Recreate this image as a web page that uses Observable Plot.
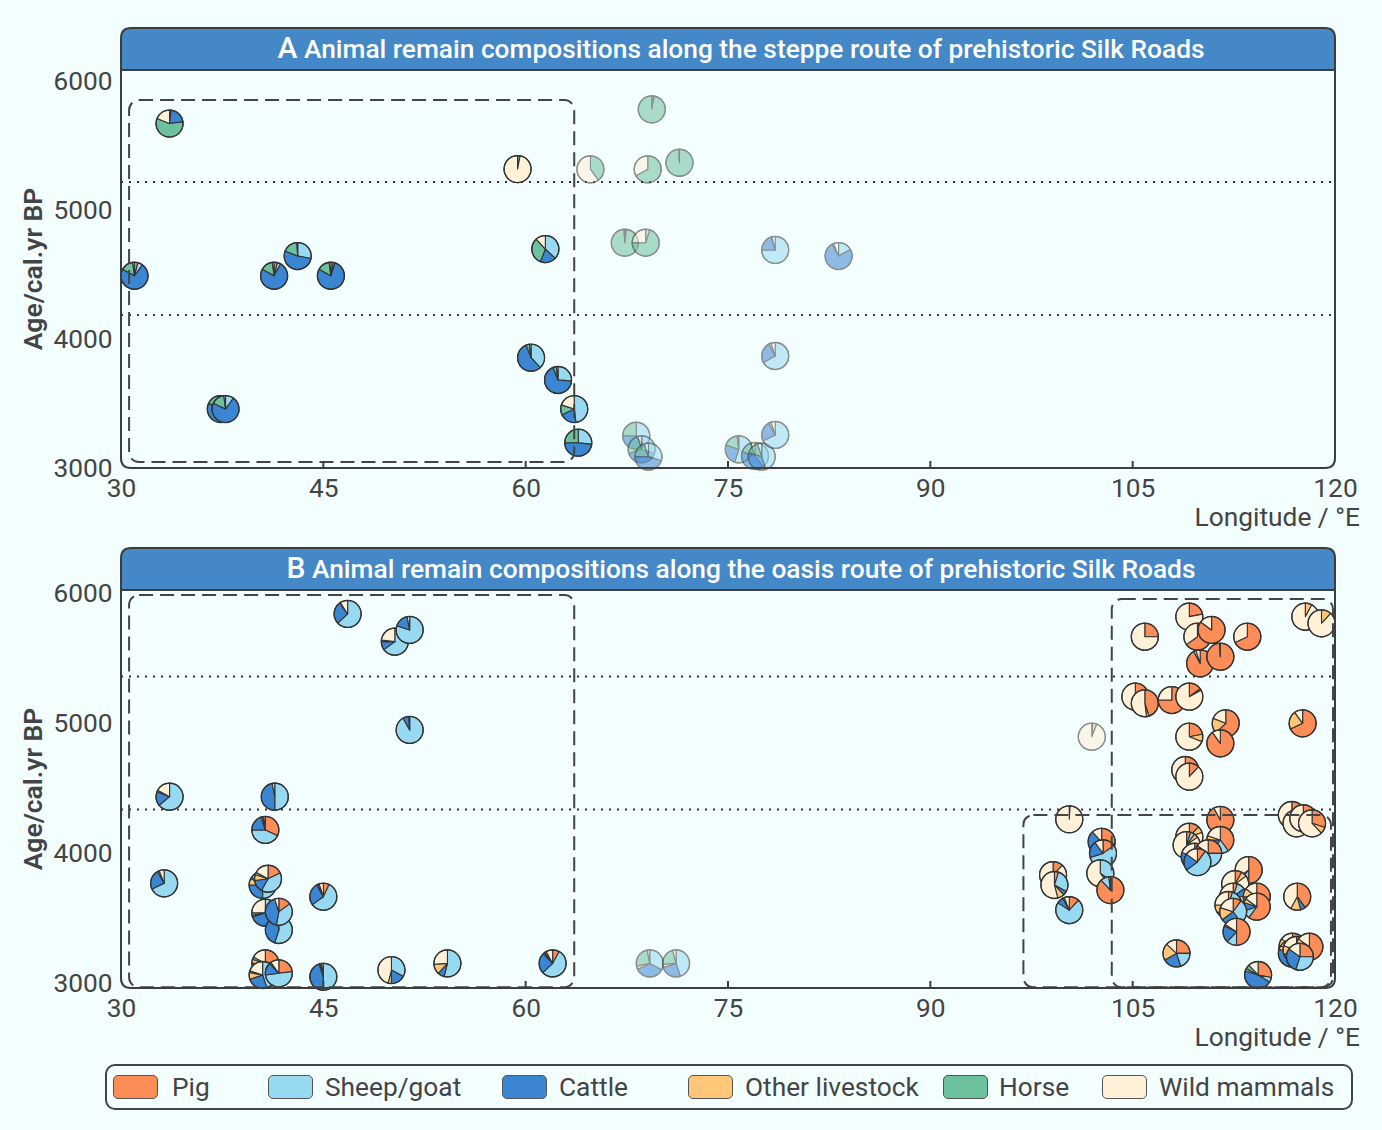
<!DOCTYPE html>
<html><head><meta charset="utf-8">
<script src="https://cdn.jsdelivr.net/npm/d3@7"></script>
<script src="https://cdn.jsdelivr.net/npm/@observablehq/plot@0.6"></script>
<style>
html,body{margin:0;padding:0;background:#F3FEFE;overflow:hidden;}
#wrap{position:relative;width:1382px;height:1130px;font-family:Roboto,"DejaVu Sans",sans-serif;}
.panel{position:absolute;left:0;}
.panel svg{overflow:visible;background:transparent;}
.panel [aria-label^="x-axis"] text,.panel [aria-label^="y-axis"] text{font-size:26.3px;fill:#444;}
#legend{position:absolute;left:105px;top:1064px;width:1248px;height:46px;border:2px solid #444;border-radius:10px;box-sizing:border-box;}
.sw{position:absolute;top:9px;width:45px;height:24px;border:1px solid #555;border-radius:5px;box-sizing:border-box;}
.lt{position:absolute;top:0;height:42px;line-height:42px;font-size:26.3px;color:#444;white-space:nowrap;}
</style>
</head><body>
<div id="wrap">
  <div id="pA" class="panel" style="top:0px"></div>
  <div id="pB" class="panel" style="top:520px"></div>
  <div id="legend"></div>
</div>
<script>
// ---------- shared ----------
const species = ["Pig","Sheep/goat","Cattle","Other livestock","Horse","Wild mammals"];
const speciesColors = ["#FC8D59","#98D9F2","#3B86D3","#FEC679","#6CC19E","#FFF1D8"];
const xTicks = [30,45,60,75,90,105,120];
const innerTicks = [45,60,75,90,105];
const yTicks = [3000,4000,5000,6000];

// ---------- Panel A: steppe route ----------
const lonA = [33.6,31.0,41.35,43.1,45.56,37.4,37.75,59.4,61.46,60.4,62.4,63.6,63.9,69.35,64.8,69.05,71.4,67.35,68.9,78.5,83.2,78.5,68.2,68.6,69.1,75.8,77.0,77.5,78.5];
const ageA = [5670,4490,4490,4643,4490,3457,3457,5317,4697,3855,3682,3457,3196,5780,5315,5315,5366,4746,4746,4690,4643,3868,3250,3145,3088,3145,3093,3088,3256];
const pigA    = [2,4,4,0,3,0,0,0,0,0,0,0,0,0,0,0,0,0,0,0,0,0,0,0,0,0,0,0,0];
const sheepA  = [0,6,4,28,2,10,10,0,37,38,26,48,27,0,0,0,0,0,5,75,17,67,40,30,30,55,40,45,68];
const cattleA = [21,73,75,53,78,72,72,0,19,56,68,20,48,3,0,0,0,2,0,20,75,25,35,40,45,25,40,35,24];
const otherA  = [0,0,0,0,0,0,0,0,0,0,0,0,0,0,0,0,0,0,0,0,0,0,0,0,0,0,0,0,0];
const horseA  = [58,15,15,18,15,16,16,3,32,4,4,12,25,97,40,67,99,97,70,1,2,3,25,25,20,18,15,15,3];
const wildA   = [19,2,2,1,2,2,2,97,12,2,2,20,0,0,60,33,1,1,25,4,6,5,0,5,5,2,5,5,5];
const dividersA = [5220,4190];
const boxLon1A = [30.6], boxLon2A = [63.6], boxAge1A = [3047], boxAge2A = [5852];

// ---------- Panel B: oasis route ----------
const lonB = [46.8,50.3,51.4,51.4,33.6,41.4,40.7,33.2,40.5,40.9, 45.0,40.7,41.7,41.7,40.7,40.5,41.7,45.0,50.05,54.2, 62.0,69.2,71.15,101.97,105.9,109.2,109.8,110.85,113.5,110.0, 111.5,117.8,119.0,105.2,105.9,107.9,109.2,111.9,111.5,109.2, 117.6,108.9,109.2,100.3,102.7,102.8,102.6,103.35,99.1,99.2, 100.3,111.5,109.2,109.0,111.5,109.6,110.6,109.8,113.6,112.6, 112.45,114.2,114.2,112.1,112.45,112.7,117.2,108.25,114.3,116.85, 116.8,117.15,118.1,117.4,116.8,117.15,117.65,118.3];
const ageB = [5838,5625,5715,4946,4433,4433,4177,3767,3754,3802, 3664,3541,3408,3548,3151,3062,3075,3048,3100,3151, 3151,3151,3151,4894,5663,5817,5663,5715,5663,5458, 5509,5817,5766,5202,5151,5176,5202,4997,4843,4894, 4997,4638,4587,4259,4086,3997,3844,3715,3830,3754, 3561,4254,4125,4061,4100,3971,3997,3930,3869,3761, 3664,3664,3587,3600,3548,3394,3664,3228,3062,3279, 3228,3254,3279,3202,4292,4228,4267,4228];
const pigB    = [0,0,0,0,0,0,32,0,0,18, 7,0,0,15,25,0,23,0,0,0, 8,0,0,1,25,22,65,85,68,92, 99,0,0,20,45,75,15,63,90,22, 68,40,12,0,28,15,0,88,12,5, 12,92,12,5,40,10,25,10,50,8, 5,55,60,5,10,50,40,25,28,10, 20,20,60,25,20,10,15,30];
const sheepB  = [63,65,80,92,64,50,43,68,50,40, 58,35,55,38,30,45,50,50,33,54, 55,33,45,0,0,0,0,0,0,0, 0,0,0,0,0,0,0,0,0,0, 0,0,0,0,35,55,35,10,0,28, 72,0,0,5,20,45,40,55,12,0, 10,10,10,25,30,12,0,20,6,15, 15,20,5,30,0,0,0,0];
const cattleB = [27,10,17,7,17,47,20,24,25,15, 27,35,43,42,20,25,15,45,17,8, 25,35,25,0,0,0,0,0,0,0, 0,0,0,0,0,0,0,0,0,0, 0,0,0,0,25,20,5,0,0,5, 8,0,0,0,15,25,20,20,3,0, 10,10,10,35,25,20,6,22,46,50, 45,30,15,30,0,0,0,0];
const otherB  = [1,2,0,0,2,0,2,2,8,7, 2,2,0,0,5,8,2,1,4,12, 2,4,4,5,0,0,0,0,0,3, 0,8,12,0,3,0,2,18,0,9, 22,20,0,1,0,0,0,0,0,8, 2,0,8,5,5,0,0,0,0,7, 10,10,5,10,15,2,12,20,3,10, 5,10,5,0,0,0,0,8];
const horseB  = [0,0,0,0,0,0,1,0,2,3, 1,3,0,0,3,2,0,2,0,0, 2,25,22,0,0,0,0,0,0,0, 0,0,0,0,0,0,0,0,0,0, 0,0,0,0,0,0,0,0,0,0, 0,0,0,0,0,0,0,0,0,0, 0,0,0,0,0,0,0,0,5,0, 0,0,0,0,0,0,0,0];
const wildB   = [9,23,3,1,17,3,2,6,15,17, 5,25,2,5,17,20,10,2,46,26, 8,3,4,94,75,78,35,15,32,5, 1,92,88,80,52,25,83,19,10,69, 10,40,88,99,12,10,60,2,88,54, 6,8,80,85,20,20,15,15,35,85, 65,15,15,25,20,16,42,13,12,15, 15,20,15,15,80,90,85,62];
const dividersB = [5361,4338];
const boxLon1B = [30.6,103.45,96.9], boxLon2B = [63.6,119.85,119.7], boxAge1B = [2968,2968,2968], boxAge2B = [5984,5953,4292];

// ---------- helpers ----------
function findArgs(args){
  const scales = args.find(a => a && typeof a === "object" && typeof a.x === "function" && typeof a.y === "function");
  const dims = args.find(a => a && typeof a === "object" && "marginLeft" in a && "width" in a);
  return {scales, dims};
}
const R = 13.5;
function pieMark(sites){
  return (...args) => {
    const {scales} = findArgs(args);
    const g = d3.create("svg:g").attr("aria-label","pies");
    const pie = d3.pie().sort(null).value(d => d.v);
    const arc = d3.arc().innerRadius(0).outerRadius(R);
    for (const s of sites){
      const gg = g.append("g")
        .attr("transform", `translate(${scales.x(s.lon)},${scales.y(s.age)})`)
        .attr("opacity", s.faded ? 0.55 : 1);
      const vals = species.map((k,i) => ({k, v: s.comp[i], color: speciesColors[i]}));
      gg.selectAll("path").data(pie(vals).filter(d => d.data.v > 0)).join("path")
        .attr("d", arc).attr("fill", d => d.data.color)
        .attr("stroke", "#333").attr("stroke-width", 1.1).attr("stroke-linejoin","round");
      gg.append("circle").attr("r", R).attr("fill","none").attr("stroke","#333").attr("stroke-width",1.3);
    }
    return g.node();
  };
}
function frameMark(letter, title){
  return (...args) => {
    const {scales, dims} = findArgs(args);
    const {width, height, marginLeft, marginRight, marginTop, marginBottom} = dims;
    const x0 = marginLeft, x1 = width - marginRight, yT = marginTop, yB = height - marginBottom;
    const r = 10, hh = 42, col = "#3d3d3d";
    const g = d3.create("svg:g").attr("aria-label","panel frame");
    g.append("path")
      .attr("d", `M${x0},${yT} V${yB-r} Q${x0},${yB} ${x0+r},${yB} H${x1-r} Q${x1},${yB} ${x1},${yB-r} V${yT}`)
      .attr("fill","none").attr("stroke",col).attr("stroke-width",2);
    for (const t of innerTicks){
      g.append("line").attr("x1", scales.x(t)).attr("x2", scales.x(t)).attr("y1", yB).attr("y2", yB-7)
        .attr("stroke", col).attr("stroke-width", 2);
    }
    g.append("path")
      .attr("d", `M${x0},${yT} V${yT-hh+r} Q${x0},${yT-hh} ${x0+r},${yT-hh} H${x1-r} Q${x1},${yT-hh} ${x1},${yT-hh+r} V${yT} Z`)
      .attr("fill","#4588C7").attr("stroke",col).attr("stroke-width",2);
    const t = g.append("text").attr("x", (x0+x1)/2 + 13).attr("y", yT - hh/2).attr("dy","0.36em")
      .attr("text-anchor","middle").attr("fill","white")
      .style("font-weight","500").style("font-size","26.3px");
    t.append("tspan").style("font-size","30px").text(letter);
    t.append("tspan").text(" " + title);
    g.append("text").attr("transform", `translate(42,${(yT+yB)/2}) rotate(-90)`)
      .attr("text-anchor","middle").attr("fill","#444")
      .style("font-size","26.5px").style("font-weight","600").text("Age/cal.yr BP");
    g.append("text").attr("x", 1360).attr("y", yB + 58).attr("text-anchor","end").attr("fill","#444")
      .style("font-size","26.3px").text("Longitude / °E");
    return g.node();
  };
}
function makePanel(cfg){
  const comps = [cfg.pig, cfg.sheep, cfg.cattle, cfg.other, cfg.horse, cfg.wild];
  const boxes = cfg.boxLon1.map((_, i) => ({lon1: cfg.boxLon1[i], lon2: cfg.boxLon2[i], age1: cfg.boxAge1[i], age2: cfg.boxAge2[i]}));
  const sites = cfg.lon.map((lon, i) => ({lon, age: cfg.age[i], comp: comps.map(a => a[i])}));
  sites.forEach(s => s.faded = !boxes.some(b => s.lon >= b.lon1 - 0.3 && s.lon <= b.lon2 + 0.5 && s.age >= b.age1 - 60 && s.age <= b.age2 + 60));
  return Plot.plot({
    width: 1382, height: 540,
    marginLeft: 121, marginRight: 47, marginTop: 70, marginBottom: 72,
    style: {background: "transparent", fontFamily: "Roboto, 'DejaVu Sans', sans-serif", fontSize: "26.3px", color: "#444", overflow: "visible"},
    x: {domain: [30, 120], ticks: xTicks, tickFormat: d => String(d), tickSize: 0, tickPadding: 10, label: null},
    y: {domain: cfg.yDomain, ticks: yTicks, tickFormat: d => String(d), tickSize: 0, tickPadding: 9, label: null},
    marks: [
      Plot.ruleY(cfg.dividers, {stroke: "#333", strokeWidth: 2, strokeDasharray: "2,6"}),
      pieMark(sites),
      Plot.rect(boxes, {x1: "lon1", x2: "lon2", y1: "age1", y2: "age2", fill: "none", stroke: "#444", strokeWidth: 2, strokeDasharray: "14,7", rx: 10}),
      frameMark(cfg.letter, cfg.title)
    ]
  });
}

document.getElementById("pA").appendChild(makePanel({
  letter: "A", title: "Animal remain compositions along the steppe route of prehistoric Silk Roads",
  lon: lonA, age: ageA, pig: pigA, sheep: sheepA, cattle: cattleA, other: otherA, horse: horseA, wild: wildA,
  dividers: dividersA, boxLon1: boxLon1A, boxLon2: boxLon2A, boxAge1: boxAge1A, boxAge2: boxAge2A,
  yDomain: [3000, 6085]
}));
document.getElementById("pB").appendChild(makePanel({
  letter: "B", title: "Animal remain compositions along the oasis route of prehistoric Silk Roads",
  lon: lonB, age: ageB, pig: pigB, sheep: sheepB, cattle: cattleB, other: otherB, horse: horseB, wild: wildB,
  dividers: dividersB, boxLon1: boxLon1B, boxLon2: boxLon2B, boxAge1: boxAge1B, boxAge2: boxAge2B,
  yDomain: [2962, 6022]
}));

// ---------- legend ----------
const swatchX = [6, 161, 395, 581, 836, 995];
const labelX = [65, 218, 452, 638, 892, 1052];
const legend = d3.select("#legend");
species.forEach((name, i) => {
  legend.append("div").attr("class","sw").style("left", swatchX[i] + "px").style("background", speciesColors[i]);
  legend.append("div").attr("class","lt").style("left", labelX[i] + "px").text(name);
});
</script>
</body></html>
